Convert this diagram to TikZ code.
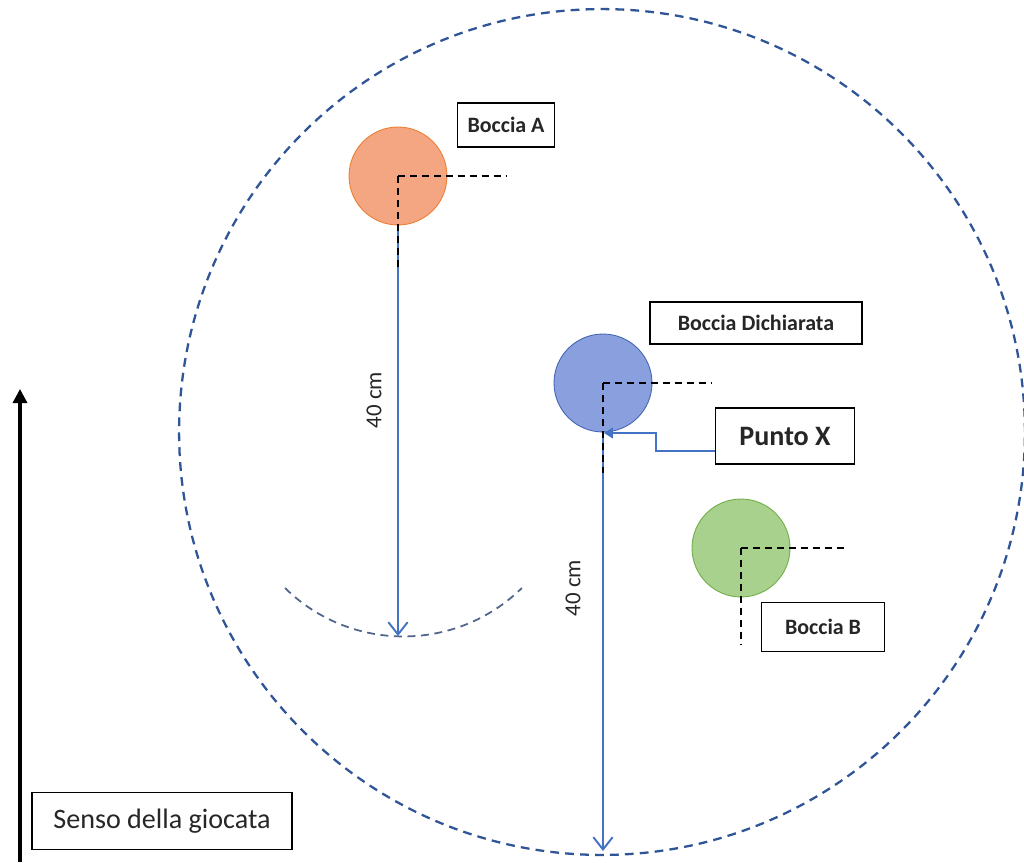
\documentclass[tikz,border=0pt]{standalone}
\usepackage{fontspec}
\setmainfont{Carlito}
\usetikzlibrary{arrows.meta}

\definecolor{ringblue}{RGB}{47,85,151}
\definecolor{lineblue}{RGB}{68,114,196}
\definecolor{ballA}{RGB}{244,165,130}
\definecolor{ballAedge}{RGB}{237,125,49}
\definecolor{ballD}{RGB}{138,160,222}
\definecolor{ballDedge}{RGB}{68,100,180}
\definecolor{ballB}{RGB}{169,209,142}
\definecolor{ballBedge}{RGB}{112,173,71}
\definecolor{arcgray}{RGB}{80,100,140}

\begin{document}
\begin{tikzpicture}[x=0.02cm,y=-0.02cm,
    ball/.style={circle,minimum size=1.96cm,inner sep=0pt,line width=0.5pt},
    tag/.style={draw,line width=0.8pt,inner sep=0pt,text=black!85,font=\fontsize{12.5}{15}\selectfont\bfseries},
    meas/.style={lineblue,line width=1.1pt,-{Straight Barb[length=7pt,width=11pt]}},
    cross/.style={black,dash pattern=on 4pt off 2.8pt,line width=0.9pt},
    lbl/.style={rotate=90,text=black!85,font=\fontsize{13}{15}\selectfont}]

    \useasboundingbox (0,0) rectangle (1024,862);

    \draw[ringblue,line width=1.3pt,dash pattern=on 5pt off 3.5pt] (602,432) circle[radius=8.46cm];
    \draw[arcgray,line width=1pt,dash pattern=on 4.5pt off 3.2pt] (285,588) arc[start angle=225.5,end angle=314.5,radius=3.38cm];

    \node[ball,fill=ballA,draw=ballAedge] (bA) at (398,176) {};
    \node[ball,fill=ballD,draw=ballDedge] (bD) at (603,383) {};
    \node[ball,fill=ballB,draw=ballBedge] (bB) at (741,548) {};

    \node[tag,minimum width=1.94cm,minimum height=0.88cm] (tA) at (506,125) {Boccia A};
    \node[tag,minimum width=4.24cm,minimum height=0.84cm] (tD) at (756,323) {Boccia Dichiarata};
    \node[tag,minimum width=2.78cm,minimum height=1.12cm,font=\fontsize{16}{19}\selectfont\bfseries] (px) at (785,436) {Punto X};
    \node[tag,minimum width=2.46cm,minimum height=0.98cm] (tB) at (823,627) {Boccia B};
    \node[tag,minimum width=5.2cm,minimum height=1.14cm,font=\fontsize{16}{19}\selectfont] (senso) at (162,821) {Senso della giocata};

    \coordinate (aEnd) at (398,636);
    \coordinate (dEnd) at (603,851);
    \coordinate (ptX) at (604,433);
    \coordinate (sStart) at (20,862);
    \coordinate (sEnd) at (20,389);

    \draw[meas] (bA.south) -- (aEnd);
    \draw[meas] (bD.south) -- (dEnd);
    \draw[lineblue,line width=0.9pt,-{Triangle[length=5pt,width=6pt]}] (px.west |- 0,451) -- (656,451) -- (656,433) -- (ptX);
    \draw[black,line width=1.8pt,-{Triangle[length=8pt,width=8pt]}] (sStart) -- (sEnd);

    \draw[cross] (bA.center) -- ++(109,0);
    \draw[cross] (bA.center) -- ++(0,94);
    \draw[cross] (bD.center) -- ++(109,0);
    \draw[cross] (bD.center) -- ++(0,90);
    \draw[cross] (bB.center) -- ++(107,0);
    \draw[cross] (bB.center) -- ++(0,96);

    \node[lbl] (dA) at (374,400) {40 cm};
    \node[lbl] (dD) at (573,588) {40 cm};

\end{tikzpicture}
\end{document}
